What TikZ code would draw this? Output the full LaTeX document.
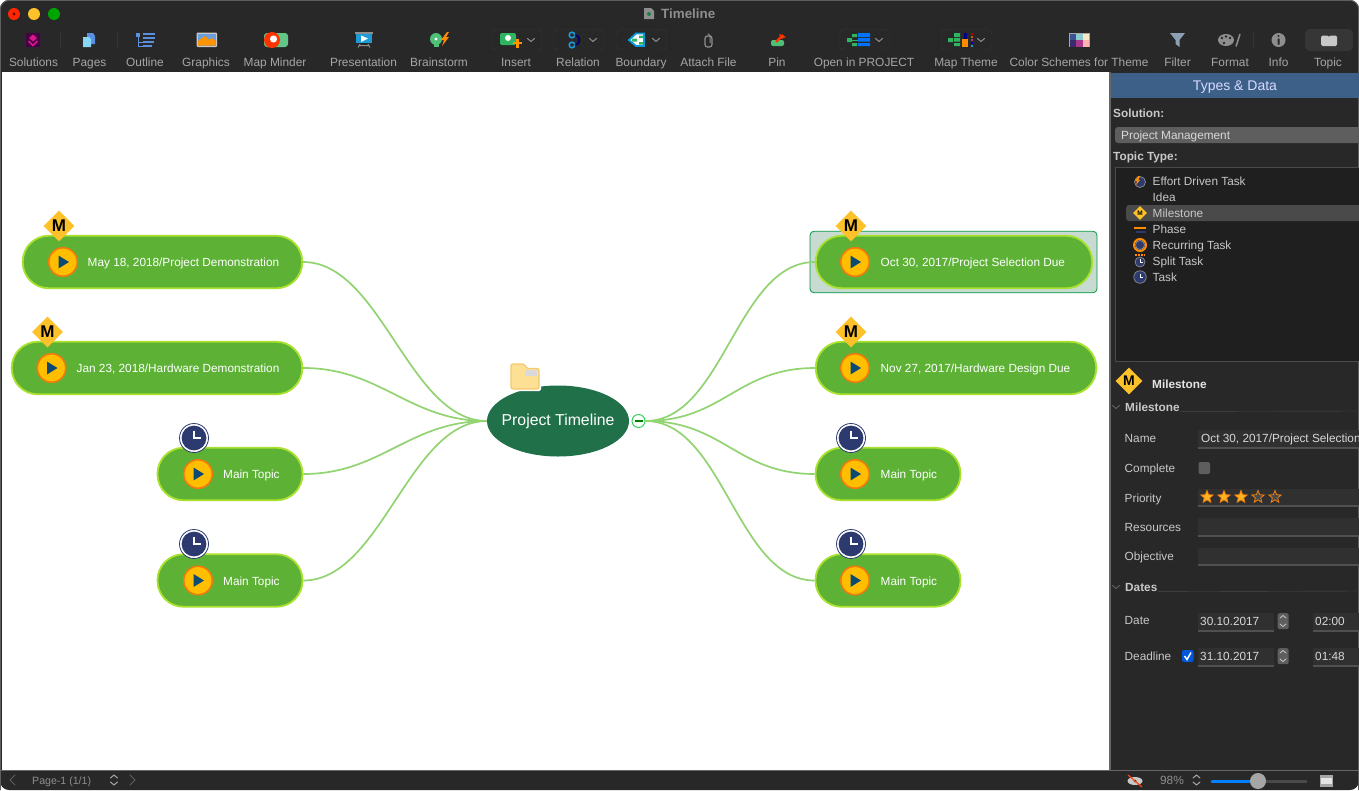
\documentclass[tikz,border=0pt]{standalone}
\usepackage{fontspec}
\setmainfont{Liberation Sans}
\usetikzlibrary{shapes.geometric}
\definecolor{windowgray}{HTML}{282828}
\definecolor{listgray}{HTML}{1F1F1F}
\definecolor{rimgray}{HTML}{4A4A4A}
\definecolor{rimlight}{HTML}{5E5E5E}
\definecolor{rimdark}{HTML}{363636}
\definecolor{dimgray}{HTML}{8E8E8E}
\definecolor{labelgray}{HTML}{A6A6A6}
\definecolor{paneltext}{HTML}{C8C8C8}
\definecolor{valuetext}{HTML}{D8D8D8}
\definecolor{headerblue}{HTML}{3D6089}
\definecolor{fieldgray}{HTML}{303030}
\definecolor{fieldline}{HTML}{505050}
\definecolor{topicgreen}{HTML}{5DB236}
\definecolor{topicrim}{HTML}{A9E12D}
\definecolor{rootgreen}{HTML}{20714A}
\definecolor{branchgreen}{HTML}{92D372}
\definecolor{playyellow}{HTML}{FFBF00}
\definecolor{playorange}{HTML}{F07A10}
\definecolor{playblue}{HTML}{0B4A72}
\definecolor{markyellow}{HTML}{FDC12A}
\definecolor{clockblue}{HTML}{2C3A70}
\definecolor{toolblue}{HTML}{5B8FE0}
\definecolor{toolgreen}{HTML}{2FB560}
\definecolor{toolcyan}{HTML}{1E9AD6}
\definecolor{funnelgray}{HTML}{8CA0B4}
\tikzset{
  toollabel/.style={anchor=mid,inner sep=0pt,yshift=-2pt,text=labelgray,font=\fontsize{11.9}{14}\selectfont},
  panellabel/.style={anchor=mid west,inner sep=0pt,yshift=-2pt,text=paneltext,font=\fontsize{11.8}{14}\selectfont},
  panelhead/.style={panellabel,font=\bfseries\fontsize{11.8}{14}\selectfont},
  toolbutton/.style={draw=rimdark,rounded corners=5pt},
  chevron/.style={draw=labelgray,line width=1pt,line cap=round,line join=round},
  topic/.style={draw=topicrim,fill=topicgreen,line width=1.8pt,rounded corners=26pt,minimum height=52.5pt,inner sep=0pt},
  topictext/.style={anchor=mid west,yshift=-2pt,text=white,inner sep=0pt,font=\fontsize{11.8}{14}\selectfont},
  branch/.style={draw=branchgreen,line width=1.7pt},
  playbtn/.style={circle,draw=playorange,fill=playyellow,line width=1.6pt,minimum size=28.5pt,inner sep=0pt,
    path picture={\fill[playblue] ([shift={(-4.5,-6.5)}]path picture bounding box.center) -- ++(10.5,6.5) -- ++(-10.5,6.5) -- cycle;}},
  markm/.style={diamond,fill=markyellow,inner sep=0pt,minimum width=31pt,minimum height=31pt,font=\bfseries\fontsize{17}{17}\selectfont},
  clockm/.style={circle,draw=clockblue,fill=white,line width=.8pt,minimum size=29pt,inner sep=0pt,
    path picture={\fill[clockblue] (path picture bounding box.center) circle (12.4);
      \draw[white,line width=1.1pt] ([yshift=7.5pt]path picture bounding box.center) -- (path picture bounding box.center) -- ([xshift=6.5pt]path picture bounding box.center);}},
  fieldbox/.style={anchor=north west,fill=fieldgray,inner sep=0pt,
    path picture={\draw[fieldline,line width=2pt] (path picture bounding box.south west) -- (path picture bounding box.south east);}},
  goldstar/.style={star,star points=5,star point ratio=2.3,inner sep=0pt,minimum size=13pt,line width=.8pt,draw=orange!80!brown,fill=markyellow!80!orange},
  palestar/.style={goldstar,fill=rimgray},
  smallclock/.style={circle,fill=clockblue,draw=dimgray,line width=.7pt,minimum size=11pt,inner sep=0pt},
  stepper/.style={anchor=north west,fill=rimlight,rounded corners=2pt,minimum width=11pt,minimum height=16pt,inner sep=0pt}
}
\begin{document}
\begin{tikzpicture}[x=1pt,y=-1pt]
  \useasboundingbox (0,0) rectangle (1359,790);
  \fill[white] (0,0) rectangle (1359,790);
  \fill[windowgray,rounded corners=9pt] (0,0) rectangle (1359,790);
  \draw[rimlight,line width=.8pt,rounded corners=9pt] (.4,790) -- (.4,.4) -- (1358.6,.4) -- (1358.6,790);
  \fill[white] (2,72) rectangle (1109,769.5);

  \fill[red!70!orange] (14,14) circle (6);
  \fill[red!40!black] (14,14) circle (1.6);
  \fill[markyellow] (34,14) circle (6);
  \fill[green!65!black] (54,14) circle (6);
  \fill[dimgray] (644,8) -- (651,8) -- (654,11) -- (654,19) -- (644,19) -- cycle;
  \fill[toolgreen!70!black] (649,14) circle (2);
  \node[toollabel,anchor=mid west,text=dimgray,font=\bfseries\fontsize{13.4}{14}\selectfont] (title) at (661,13.5) {Timeline};

  \foreach \n/\x/\t in {solutions/33.5/Solutions,pages/89.5/Pages,outline/145/Outline,graphics/206/Graphics,
    minder/275/Map Minder,presentation/363.5/Presentation,brainstorm/439/Brainstorm,insert/516/Insert,
    relation/578/Relation,boundary/641/Boundary,attach/708.5/Attach File,pin/777/Pin,project/864/Open in PROJECT,
    theme/966/Map Theme,schemes/1079/Color Schemes for Theme,filter/1177.5/Filter,format/1230/Format,info/1278.5/Info,topictab/1328/Topic}
    \node[toollabel] (\n) at (\x,62) {\t};
  \foreach \x in {60.5,117.5,1253.5}
    \draw[rimdark] (\x,33) -- (\x,47);
  \foreach \x in {491,553,616,839,941}
    \draw[toolbutton] (\x,29.5) rectangle (\x+51,50);
  \foreach \x in {531,593,656,879,981}
    \draw[chevron,draw=dimgray] (\x-3.5,38.5) -- (\x,41.5) -- (\x+3.5,38.5);

  \fill[violet!55!black,rounded corners=1pt] (26,33) rectangle (40,47);
  \fill[magenta!80!violet] (33,34.5) -- (37,38) -- (33,41.5) -- (29,38) -- cycle;
  \draw[magenta!80!violet,line width=1.5pt] (28.5,41) -- (33,45.5) -- (37.5,41);
  \fill[toolblue] (87,33) -- (93,33) -- (95,36) -- (95,44) -- (87,44) -- cycle;
  \fill[toolblue!60!cyan!60!white] (83,37) -- (89,37) -- (91,39) -- (91,47) -- (83,47) -- cycle;
  \fill[toolblue] (136,32.5) rectangle (140,37);
  \foreach \y/\e in {34/155,38/155,42/154,46/152}
    \draw[toolblue,line width=2pt] (143,\y) -- (\e,\y);
  \draw[toolblue,line width=1pt] (138,37) -- (138,46) -- (143,46) (138,42) -- (143,42);
  \fill[paneltext,rounded corners=1pt] (196.5,32.5) rectangle (217,47);
  \fill[cyan!55!blue!60!white] (198,34) rectangle (215.5,45.5);
  \fill[orange!85!yellow] (198,45.5) -- (198,41) -- (205,36) -- (209,40) -- (212,38) -- (215.5,41) -- (215.5,45.5) -- cycle;
  \fill[toolgreen!75!white,rounded corners=3pt] (264,33) rectangle (288,47);
  \fill[red!60!orange] (272,40) circle (8);
  \fill[white] (273.5,39) circle (3.6);
  \fill[dimgray] (355,32) rectangle (373,33.5);
  \fill[toolcyan] (356,34) rectangle (372,43);
  \fill[white] (361,35.5) -- (368,38.5) -- (361,42) -- cycle;
  \draw[dimgray,line width=1pt] (360,44) -- (358,47.5) (368,44) -- (370,47.5) (359,45.5) -- (369,45.5);
  \fill[toolgreen!85!white] (436,39) circle (6);
  \fill[white] (436,39) circle (1.6);
  \fill[toolgreen!85!white] (433.5,44) rectangle (438.5,47);
  \fill[orange!90!yellow] (447,32) -- (441,40) -- (444,40) -- (442,46) -- (449,37) -- (446,37) -- (449,32) -- cycle;
  \fill[toolgreen,rounded corners=2pt] (500,33) rectangle (516,45);
  \fill[white] (508,38) circle (3);
  \draw[orange!85!yellow,line width=2.5pt] (513,43) -- (522,43) (517.5,38.5) -- (517.5,47.5);
  \draw[toolcyan,line width=1.6pt] (572,35) circle (2.8) (572,45) circle (2.8);
  \draw[blue!40!black,line width=1.8pt] (575,35) .. controls (581,35) and (581,45) .. (575,45);
  \draw[cyan!85!blue,fill=white,line width=1.8pt] (629,40) -- (636,33.5) -- (644,33.5) -- (644,46) -- (636,46) -- cycle;
  \fill[toolgreen] (632,38.5) rectangle (637,41.5) (639,35.5) rectangle (643,38) (639,42) rectangle (643,44.5);
  \draw[dimgray,line width=1.2pt,rounded corners=2.5pt] (705,36) rectangle (712,47);
  \draw[dimgray,line width=1pt,rounded corners=1.5pt] (707.5,34) -- (710,34) -- (710,43);
  \fill[toolgreen!85!white,rounded corners=2pt] (771,40) rectangle (784,46);
  \draw[red!60!orange,line width=2.4pt] (776,42) -- (783,35);
  \fill[red!60!orange] (779,34) -- (786,37) -- (781,39) -- cycle;
  \fill[toolgreen] (847,38) rectangle (852,42) (852,34) rectangle (857,37) (852,43) rectangle (857,46);
  \draw[toolgreen,line width=1pt] (852,40) -- (870,40);
  \fill[blue!55!cyan] (858,33) rectangle (870,37) (858,38) rectangle (870,41.5) (858,43) rectangle (870,46);
  \fill[toolgreen] (948,38) rectangle (953,42) (954,33) rectangle (960,37) (954,43) rectangle (960,46) (954,38) rectangle (960,41.5);
  \fill[orange!90!yellow] (962,39) rectangle (968,47);
  \fill[blue!50!black] (963.5,33) rectangle (966.5,39);
  \foreach \y/\c in {33/red,36/orange,39/magenta,42/blue,45/cyan}
    \fill[\c!75!black] (971,\y) rectangle (972.5,\y+2);
  \fill[labelgray] (1068.5,32.5) rectangle (1090,47);
  \foreach \x/\y/\c in {1069.5/33.5/3A5290,1076/33.5/8CCBCF,1082.7/33.5/FAE8C8,1069.5/40/3A2A6E,1076/40/A8388C,1082.7/40/FFB0B0}{
    \definecolor{swatch}{HTML}{\c}
    \fill[swatch] (\x,\y) rectangle (\x+6.7,\y+6.5);
  }
  \fill[funnelgray] (1170,33) -- (1185,33) -- (1179.5,40) -- (1179.5,47) -- (1175.5,44) -- (1175.5,40) -- cycle;
  \fill[dimgray] (1226,40) ellipse (8 and 6);
  \fill[windowgray] (1222,38) circle (1.3) (1226,36.5) circle (1.3) (1230,38) circle (1.3) (1224,43) circle (1.3);
  \draw[dimgray,line width=1.5pt] (1236,46.5) -- (1240,34);
  \fill[dimgray] (1278.5,40) circle (7);
  \fill[windowgray] (1278.5,36) circle (1.1) (1277.5,38.5) rectangle (1279.5,44.5);
  \fill[rimdark,rounded corners=5pt] (1305,29) rectangle (1353,51);
  \fill[paneltext,rounded corners=1.5pt] (1321,35.5) rectangle (1337,46);
  \fill[rimdark] (1329,35) circle (1.6);

  \fill[black!60] (1109,72) rectangle (1111,770);
  \fill[headerblue] (1111,73) rectangle (1359,98);
  \node[toollabel,text=white!85!blue,font=\fontsize{14}{16}\selectfont] (typesdata) at (1235,86) {Types \& Data};
  \node[panelhead] (solution) at (1113,113) {Solution:};
  \fill[rimlight,rounded corners=3pt] (1115,127) rectangle (1370,143);
  \node[panellabel,text=valuetext] (solvalue) at (1121,135) {Project Management};
  \node[panelhead] (topictype) at (1113,156) {Topic Type:};
  \draw[rimgray,fill=listgray] (1115.5,167.5) rectangle (1370,361);
  \fill[rimgray,rounded corners=3pt] (1126,205) rectangle (1370,221);
  \foreach \n/\y/\t in {effort/181/Effort Driven Task,idea/197/Idea,milestone/213/Milestone,phase/229/Phase,recurring/245/Recurring Task,split/261/Split Task,task/277/Task}
    \node[panellabel] (\n) at (1152.5,\y) {\t};
  \node[smallclock] (efforticon) at (1140,182) {};
  \fill[orange!90!yellow] (1138,176) -- (1135,181) -- (1137,181) -- (1136,185) -- (1140,180) -- (1138.5,180) -- (1140,176) -- cycle;
  \node[diamond,fill=markyellow,inner sep=0pt,minimum width=14pt,minimum height=14pt,font=\bfseries\fontsize{6.5}{7}\selectfont] (miniM) at (1140,213) {M};
  \draw[orange!90!yellow,line width=1.2pt] (1134,228) -- (1146,228);
  \draw[clockblue,line width=1.5pt] (1136,232) -- (1146,232);
  \draw[orange!90!yellow,line width=2pt] (1140,245) circle (6);
  \node[smallclock,minimum size=9pt] (recurricon) at (1140,245) {};
  \draw[orange!90!yellow,line width=1.5pt,dash pattern=on 2pt off 1pt] (1135,255) -- (1145,255);
  \node[smallclock,minimum size=10pt] (spliticon) at (1140,262) {};
  \node[smallclock,minimum size=12.5pt] (taskicon) at (1140,277) {};
  \foreach \y in {262,277}
    \draw[white,line width=.7pt] (1140,\y-3.5) -- (1140,\y) -- (1143,\y);

  \node[markm,minimum width=27pt,minimum height=27pt,font=\bfseries\fontsize{14}{14}\selectfont] (bigM) at (1129,381) {M};
  \node[panelhead,text=white!90!black] (milestonehead) at (1152,384) {Milestone};
  \node[panelhead] (sectionA) at (1125,407) {Milestone};
  \node[panelhead] (sectionB) at (1125,587) {Dates};
  \draw[rimgray] (sectionA.east) ++(0,4) -- (1359,411);
  \draw[rimgray] (sectionB.east) ++(0,4) -- (1359,591);
  \foreach \y in {407,587}
    \draw[chevron,draw=rimlight] (1112.5,\y-1.5) -- (1116,\y+1.5) -- (1119.5,\y-1.5);

  \foreach \n/\y/\t in {namerow/438/Name,completerow/468/Complete,priorityrow/498/Priority,resourcesrow/527/Resources,objectiverow/556/Objective,daterow/620/Date,deadlinerow/656/Deadline}
    \node[panellabel] (\n) at (1124.5,\y) {\t};
  \foreach \n/\y/\h in {namefield/430/18,priorityfield/489/17,resourcesfield/518/18,objectivefield/548/17}
    \node[fieldbox,minimum width=170pt,minimum height=\h pt] (\n) at (1198,\y) {};
  \node[panellabel,text=valuetext] (namevalue) at (1201,438) {Oct 30, 2017/Project Selection};
  \fill[rimlight,rounded corners=2pt] (1198.5,462) rectangle (1210,474);
  \foreach \x in {1207,1224,1241}
    \node[goldstar] (star\x) at (\x,497) {};
  \foreach \x in {1258,1275}
    \node[palestar] (star\x) at (\x,497) {};

  \foreach \n/\y/\d/\t in {date/613/30.10.2017/02:00,deadline/648/31.10.2017/01:48}{
    \node[fieldbox,minimum width=76pt,minimum height=18pt] (\n day) at (1198,\y) {};
    \node[fieldbox,minimum width=50pt,minimum height=18pt] (\n time) at (1313,\y) {};
    \node[panellabel,text=valuetext] (\n dayvalue) at (1200,\y+8) {\d};
    \node[panellabel,text=valuetext] (\n timevalue) at (1315,\y+8) {\t};
    \node[stepper] (\n step) at (1277.5,\y) {};
    \draw[chevron,draw=paneltext,line width=.8pt] (1280,\y+5) -- (1283,\y+2.5) -- (1286,\y+5) (1280,\y+11) -- (1283,\y+13.5) -- (1286,\y+11);
  }
  \fill[blue!60!cyan!85!black,rounded corners=2pt] (1182,650) rectangle (1193.5,662);
  \draw[white,line width=1.5pt] (1184.5,656) -- (1187,659.5) -- (1191,652.5);

  \draw[black!60] (0,770) -- (1359,770);
  \node[panellabel,text=dimgray,font=\fontsize{10.6}{14}\selectfont] (pagename) at (32,780) {Page-1 (1/1)};
  \draw[chevron,draw=rimlight] (15,775) -- (10,780) -- (15,785);
  \draw[chevron,draw=rimlight] (130,775) -- (135,780) -- (130,785);
  \foreach \x in {114,1196.5}{
    \draw[chevron] (\x-3.5,778) -- (\x,775) -- (\x+3.5,778);
    \draw[chevron] (\x-3.5,782) -- (\x,785) -- (\x+3.5,782);
  }
  \fill[paneltext] (1135,781) ellipse (7.5 and 4);
  \fill[windowgray] (1135,781) circle (1.5);
  \draw[red!55!orange!85!brown,line width=1.2pt] (1128,775) -- (1142,787);
  \node[toollabel,text=dimgray] (zoomvalue) at (1172,780) {98\%};
  \draw[rimgray,line width=3pt,line cap=round] (1212,781) -- (1306,781);
  \draw[blue!50!cyan,line width=3pt,line cap=round] (1212,781) -- (1258,781);
  \node[circle,fill=labelgray,minimum size=16pt,inner sep=0pt] (zoomknob) at (1258,781) {};
  \fill[labelgray] (1320,775) rectangle (1333,787);
  \fill[white!90!black] (1321,778) rectangle (1332,783.5);

  \node[draw=green!45!black!75!cyan,fill=rootgreen!25!white,rounded corners=4pt,minimum width=287pt,minimum height=61.5pt,line width=.8pt] (selectbox) at (953.5,262) {};

  \node[ellipse,fill=rootgreen,minimum width=142pt,minimum height=71pt,inner sep=0pt] (root) at (558,421) {};
  \node[toollabel,text=white,font=\fontsize{15.8}{18}\selectfont] (rootlabel) at (root) {Project Timeline};
  \fill[white,rounded corners=2pt] (509.5,362) rectangle (541,391);
  \draw[markyellow!75!brown!70!white,fill=markyellow!50!white,line width=1.2pt,rounded corners=2pt] (511,364) -- (525,364) -- (526,368.5) -- (539,368.5) -- (539,389) -- (511,389) -- cycle;
  \fill[white!85!black] (525,370) rectangle (537,376);
  \node[circle,draw=green!60!teal!80!white,fill=white,line width=1pt,minimum size=13pt,inner sep=0pt] (collapse) at (638.5,421) {};
  \draw[green!50!black,line width=1.6pt] (634.5,421) -- (642.5,421);

  \node[topic,minimum width=279.5pt] (may) at (162.5,262) {};
  \node[topic,minimum width=290.5pt] (jan) at (157,368) {};
  \node[topic,minimum width=145pt] (mainA) at (230,474) {};
  \node[topic,minimum width=145pt] (mainB) at (230,580.5) {};
  \node[topic,minimum width=276.5pt] (oct) at (954,262) {};
  \node[topic,minimum width=280.5pt] (nov) at (956,368) {};
  \node[topic,minimum width=145pt] (mainC) at (888,474) {};
  \node[topic,minimum width=145pt] (mainD) at (888,580.5) {};

  \foreach \t in {may,jan,mainA,mainB}
    \draw[branch] (root.west) .. controls +(-78,0) and +(78,0) .. (\t.east);
  \foreach \t in {oct,nov,mainC,mainD}
    \draw[branch] (collapse.east) .. controls +(78,0) and +(-78,0) .. (\t.west);

  \foreach \n/\x/\y in {may/63/262,jan/51.5/368,mainA/198/474,mainB/198/580.5,oct/855/262,nov/855/368,mainC/855/474,mainD/855/580.5}
    \node[playbtn] (\n play) at (\x,\y) {};
  \node[topictext] (maytext) at (87.5,262) {May 18, 2018/Project Demonstration};
  \node[topictext] (jantext) at (76.5,368) {Jan 23, 2018/Hardware Demonstration};
  \node[topictext] (mainAtext) at (223,474) {Main Topic};
  \node[topictext] (mainBtext) at (223,580.5) {Main Topic};
  \node[topictext] (octtext) at (880.5,262) {Oct 30, 2017/Project Selection Due};
  \node[topictext] (novtext) at (880.5,368) {Nov 27, 2017/Hardware Design Due};
  \node[topictext] (mainCtext) at (880.5,474) {Main Topic};
  \node[topictext] (mainDtext) at (880.5,580.5) {Main Topic};

  \node[markm] (mayM) at (59,226) {M};
  \node[markm] (janM) at (47.5,332) {M};
  \node[markm] (octM) at (851,226) {M};
  \node[markm] (novM) at (851,332) {M};
  \node[clockm] (mainAclock) at (194,438) {};
  \node[clockm] (mainBclock) at (194,544) {};
  \node[clockm] (mainCclock) at (851,438) {};
  \node[clockm] (mainDclock) at (851,544) {};
\end{tikzpicture}
\end{document}
